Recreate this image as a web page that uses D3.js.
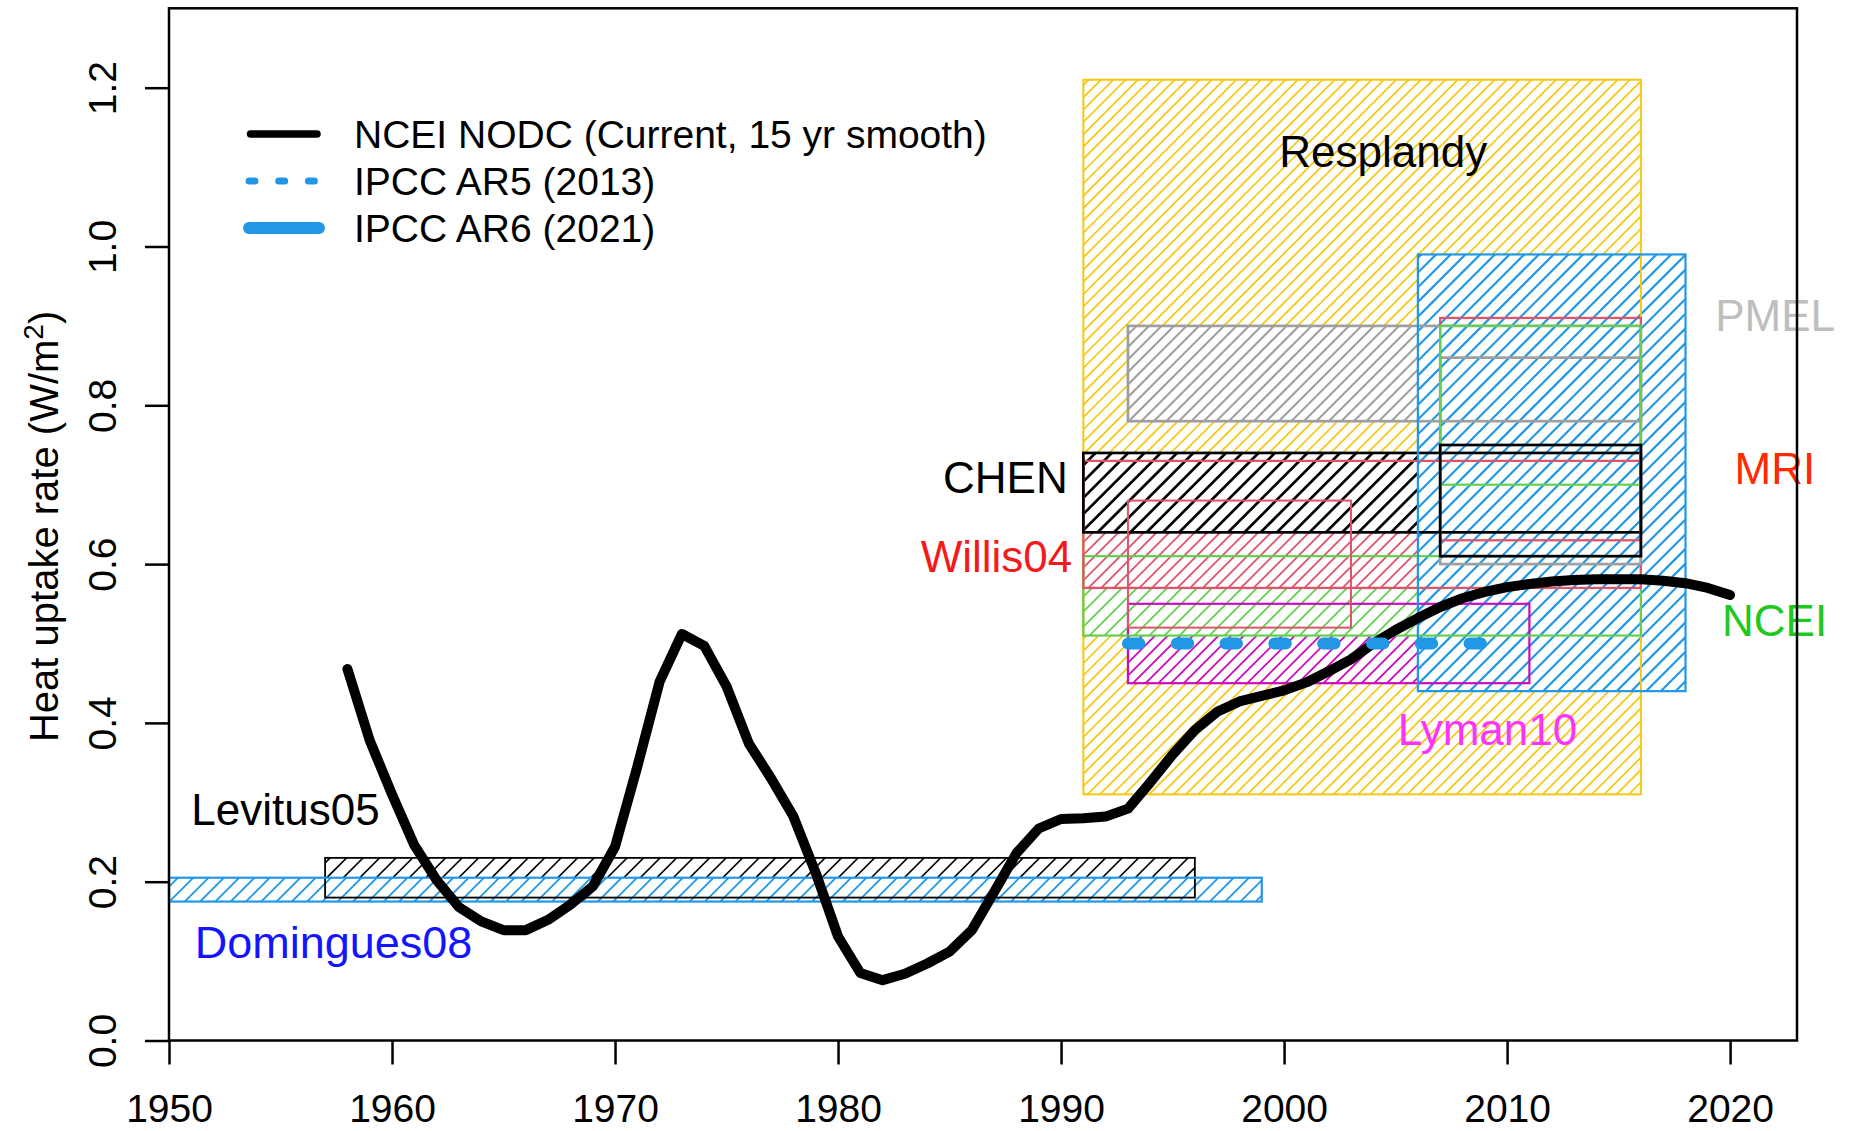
<!DOCTYPE html>
<html>
<head>
<meta charset="utf-8">
<script src="https://cdn.jsdelivr.net/npm/d3@7"></script>
<style>
  body { margin: 0; background: #ffffff; }
  text { font-family: "Liberation Sans", Arial, Helvetica, sans-serif; }
</style>
</head>
<body>
<svg id="chart" width="1854" height="1131"></svg>
<script>
// NCEI NODC heat uptake rate, 15-yr smooth (W/m^2)
const years = [1958, 1959, 1960, 1961, 1962, 1963, 1964, 1965, 1966, 1967,
  1968, 1969, 1970, 1971, 1972, 1973, 1974, 1975, 1976, 1977,
  1978, 1979, 1980, 1981, 1982, 1983, 1984, 1985, 1986, 1987,
  1988, 1989, 1990, 1991, 1992, 1993, 1994, 1995, 1996, 1997,
  1998, 1999, 2000, 2001, 2002, 2003, 2004, 2005, 2006, 2007,
  2008, 2009, 2010, 2011, 2012, 2013, 2014, 2015, 2016, 2017,
  2018, 2019, 2020];
const nceiRate = [0.468, 0.378, 0.310, 0.246, 0.202, 0.168, 0.150, 0.139, 0.139, 0.152,
  0.171, 0.194, 0.244, 0.345, 0.452, 0.512, 0.497, 0.446, 0.374, 0.330,
  0.282, 0.211, 0.131, 0.085, 0.076, 0.084, 0.097, 0.112, 0.139, 0.187,
  0.236, 0.267, 0.279, 0.280, 0.282, 0.292, 0.325, 0.360, 0.391, 0.414,
  0.427, 0.434, 0.441, 0.451, 0.465, 0.480, 0.500, 0.517, 0.532, 0.546,
  0.557, 0.565, 0.571, 0.575, 0.578, 0.580, 0.581, 0.581, 0.581, 0.579,
  0.576, 0.570, 0.561];

// Published estimates: period covered and uncertainty range (W/m^2)
const boxKeys  = ["Resplandy", "Levitus05", "Domingues08", "PMEL", "Lyman10", "NCEI", "MRI", "CHEN", "AR6",
                  "Willis04", "PMEL_0716", "MRI_0716", "NCEI_0716", "CHEN_0716"];
const boxStart = [1991, 1957, 1950, 1993, 1993, 1991, 1991, 1991, 2006, 1993, 2007, 2007, 2007, 2007];
const boxEnd   = [2016, 1996, 1999, 2016, 2011, 2016, 2016, 2016, 2018, 2003, 2016, 2016, 2016, 2016];
const boxLow   = [0.31, 0.18, 0.175, 0.78, 0.45, 0.51, 0.57, 0.64, 0.44, 0.52, 0.60, 0.63, 0.70, 0.61];
const boxHigh  = [1.21, 0.23, 0.205, 0.90, 0.55, 0.61, 0.73, 0.74, 0.99, 0.68, 0.86, 0.91, 0.90, 0.75];

// IPCC AR5 (2013) central estimate
const ar5Start = 1993, ar5End = 2009, ar5Value = 0.50;

// Annotations
const labelText  = ["Resplandy", "PMEL", "MRI", "NCEI", "CHEN", "Willis04", "Lyman10", "Levitus05", "Domingues08"];
const labelYear  = [2004.45, 2019.33, 2020.2, 2019.64, 1990.3, 1990.5, 2005.1, 1951.0, 1951.15];
const labelValue = [1.100, 0.893, 0.701, 0.509, 0.690, 0.590, 0.372, 0.271, 0.104];

const legendText = ["NCEI NODC (Current, 15 yr smooth)", "IPCC AR5 (2013)", "IPCC AR6 (2021)"];

const xTicks = [1950, 1960, 1970, 1980, 1990, 2000, 2010, 2020];
const yTicks = [0.0, 0.2, 0.4, 0.6, 0.8, 1.0, 1.2];

// ---------- styles ----------
const C = {
  black: "#000000", red: "#DF536B", green: "#61D04F", blue: "#2297E6",
  magenta: "#CD0BBC", gold: "#F5C710", gray: "#9E9E9E"
};
// hatch = horizontal distance between neighbouring 45-degree shading lines (px)
const boxStyle = {
  Resplandy:   { color: C.gold,    hatch: 12.3, hw: 1.7, bw: 2.0 },
  Levitus05:   { color: C.black,   hatch: 16.5, hw: 1.6, bw: 1.8 },
  Domingues08: { color: C.blue,    hatch: 15.3, hw: 1.8, bw: 2.2 },
  PMEL:        { color: C.gray,    hatch: 12.5, hw: 2.0, bw: 2.7 },
  Lyman10:     { color: C.magenta, hatch: 12.7, hw: 1.8, bw: 2.2 },
  NCEI:        { color: C.green,   hatch: 15.0, hw: 1.8, bw: 2.2 },
  MRI:         { color: C.red,     hatch: 12.7, hw: 1.8, bw: 2.3 },
  CHEN:        { color: C.black,   hatch: 16.3, hw: 2.7, bw: 2.7 },
  AR6:         { color: C.blue,    hatch: 14.7, hw: 2.2, bw: 2.2 },
  Willis04:    { color: C.red,     hatch: 0,    hw: 0,   bw: 2.0 },
  PMEL_0716:   { color: C.gray,    hatch: 0,    hw: 0,   bw: 2.7 },
  MRI_0716:    { color: C.red,     hatch: 0,    hw: 0,   bw: 2.3 },
  NCEI_0716:   { color: C.green,   hatch: 0,    hw: 0,   bw: 2.2 },
  CHEN_0716:   { color: C.black,   hatch: 0,    hw: 0,   bw: 2.7 }
};
const labelColor = {
  Resplandy: "#000000", PMEL: "#BEBEBE", MRI: "#FF2A00", NCEI: "#1FC81F", CHEN: "#000000",
  Willis04: "#F51A1A", Lyman10: "#FF33FF", Levitus05: "#000000", Domingues08: "#1414FF"
};
const labelAnchor = { CHEN: "end", Willis04: "end", Resplandy: "middle" };

// ---------- layout ----------
const svg = d3.select("#chart");
const plot = { left: 169, right: 1797, top: 8.3, bottom: 1040.5 };
const x = d3.scaleLinear().domain([1950, 2023]).range([plot.left, plot.right]);
const y = d3.scaleLinear().domain([0, 1.3]).range([plot.bottom, plot.top]);

svg.append("rect").attr("width", 1854).attr("height", 1131).attr("fill", "#fff");
const defs = svg.append("defs");

const boxes = boxKeys.map((k, i) => ({
  key: k, x0: boxStart[i], x1: boxEnd[i], y0: boxLow[i], y1: boxHigh[i]
}));

// hatched bodies, later estimates drawn over earlier ones
const hatchOrder = ["Resplandy", "Levitus05", "Domingues08", "PMEL", "Lyman10", "NCEI", "MRI", "CHEN", "AR6"];
const gFill = svg.append("g");
hatchOrder.forEach(k => {
  const b = boxes.find(d => d.key === k);
  const s = boxStyle[k];
  const left = x(b.x0), right = x(b.x1), top = y(b.y1), bottom = y(b.y0);
  defs.append("clipPath").attr("id", "clip-" + k)
    .append("rect").attr("x", left).attr("y", top)
    .attr("width", right - left).attr("height", bottom - top);
  const g = gFill.append("g").attr("clip-path", `url(#clip-${k})`);
  g.append("rect").attr("x", left).attr("y", top)
    .attr("width", right - left).attr("height", bottom - top).attr("fill", "#fff");
  // shading lines x + y = c
  const cFirst = Math.floor((left + top) / s.hatch) * s.hatch;
  const cs = d3.range(cFirst, right + bottom + s.hatch, s.hatch);
  g.selectAll("line").data(cs).join("line")
    .attr("x1", c => c - (bottom + 3)).attr("y1", bottom + 3)
    .attr("x2", c => c - (top - 3)).attr("y2", top - 3)
    .attr("stroke", s.color).attr("stroke-width", s.hw);
});

// outlines of every box
svg.append("g").selectAll("rect").data(boxes).join("rect")
  .attr("x", d => x(d.x0)).attr("y", d => y(d.y1))
  .attr("width", d => x(d.x1) - x(d.x0))
  .attr("height", d => y(d.y0) - y(d.y1))
  .attr("fill", "none")
  .attr("stroke", d => boxStyle[d.key].color)
  .attr("stroke-width", d => boxStyle[d.key].bw);

// NCEI curve
const line = d3.line().x((d, i) => x(years[i])).y(d => y(d));
svg.append("path").datum(nceiRate)
  .attr("d", line)
  .attr("fill", "none").attr("stroke", "#000")
  .attr("stroke-width", 10).attr("stroke-linejoin", "round").attr("stroke-linecap", "round");

// IPCC AR5 dotted estimate
svg.append("line")
  .attr("x1", x(ar5Start)).attr("x2", x(ar5End))
  .attr("y1", y(ar5Value)).attr("y2", y(ar5Value))
  .attr("stroke", C.blue).attr("stroke-width", 12)
  .attr("stroke-linecap", "round").attr("stroke-dasharray", "11.4 37.4");

// annotations
svg.append("g").selectAll("text").data(labelText).join("text")
  .attr("x", (d, i) => x(labelYear[i]))
  .attr("y", (d, i) => y(labelValue[i]))
  .attr("text-anchor", d => labelAnchor[d] || "start")
  .attr("font-size", d => d === "Domingues08" ? 45 : 44)
  .attr("fill", d => labelColor[d])
  .text(d => d);

// axes
const xAxis = svg.append("g").attr("transform", `translate(0,${plot.bottom})`)
  .call(d3.axisBottom(x).tickValues(xTicks).tickFormat(d3.format("d")).tickSize(24));
xAxis.select(".domain").remove();
xAxis.selectAll(".tick line").attr("stroke", "#000").attr("stroke-width", 2.5);
xAxis.selectAll(".tick text").attr("y", 81.5).attr("dy", null)
  .attr("font-size", 39).attr("fill", "#000")
  .attr("font-family", '"Liberation Sans", Arial, sans-serif');

const yAxis = svg.append("g").attr("transform", `translate(${plot.left},0)`)
  .call(d3.axisLeft(y).tickValues(yTicks).tickFormat(d3.format(".1f")).tickSize(24));
yAxis.select(".domain").remove();
yAxis.selectAll(".tick line").attr("stroke", "#000").attr("stroke-width", 2.5);
yAxis.selectAll(".tick text")
  .attr("x", null).attr("dy", null)
  .attr("transform", "translate(-53,0) rotate(-90)")
  .attr("text-anchor", "middle")
  .attr("font-size", 39).attr("fill", "#000")
  .attr("font-family", '"Liberation Sans", Arial, sans-serif');

// plot frame
svg.append("rect")
  .attr("x", plot.left).attr("y", plot.top)
  .attr("width", plot.right - plot.left).attr("height", plot.bottom - plot.top)
  .attr("fill", "none").attr("stroke", "#000").attr("stroke-width", 2.5);

// y-axis title
const yt = svg.append("text")
  .attr("transform", `translate(58.3,${(plot.top + plot.bottom) / 2 + 2}) rotate(-90)`)
  .attr("text-anchor", "middle").attr("font-size", 40).attr("fill", "#000");
yt.append("tspan").text("Heat uptake rate (W/m");
yt.append("tspan").attr("font-size", 28).attr("dy", -15).text("2");
yt.append("tspan").attr("dy", 15).text(")");

// legend
const lg = svg.append("g");
const legendRows = [134, 181, 228];
lg.append("line").attr("x1", 250.5).attr("x2", 317).attr("y1", legendRows[0]).attr("y2", legendRows[0])
  .attr("stroke", "#000").attr("stroke-width", 7.5).attr("stroke-linecap", "round");
lg.append("line").attr("x1", 249).attr("x2", 318).attr("y1", legendRows[1]).attr("y2", legendRows[1])
  .attr("stroke", C.blue).attr("stroke-width", 7).attr("stroke-linecap", "round")
  .attr("stroke-dasharray", "6 23.7");
lg.append("line").attr("x1", 249).attr("x2", 319).attr("y1", legendRows[2]).attr("y2", legendRows[2])
  .attr("stroke", C.blue).attr("stroke-width", 12).attr("stroke-linecap", "round");
lg.selectAll("text").data(legendText).join("text")
  .attr("x", 354).attr("y", (d, i) => legendRows[i] + 14)
  .attr("font-size", 39).attr("fill", "#000")
  .text(d => d);
</script>
</body>
</html>
